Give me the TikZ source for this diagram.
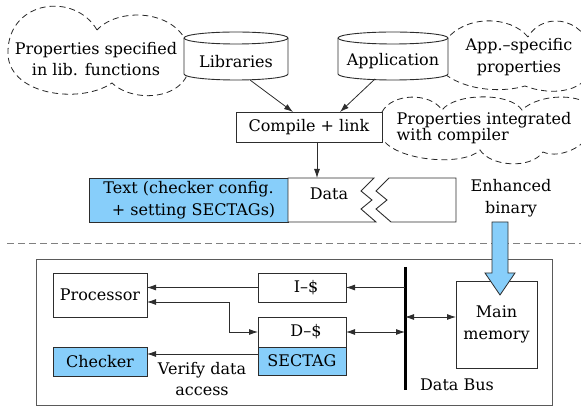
\documentclass[tikz,border=0pt]{standalone}
\usepackage{fontspec}
\setmainfont{DejaVu Serif}
\usetikzlibrary{arrows.meta}
\definecolor{bluefill}{RGB}{135,206,250}
\definecolor{edge}{RGB}{45,45,45}
\definecolor{framegray}{RGB}{90,90,90}
\begin{document}
\begin{tikzpicture}[x=1pt,y=-1pt,
  every node/.style={font=\fontsize{16}{21.5}\selectfont, inner sep=0pt, outer sep=0pt},
  box/.style={draw=edge, line width=0.9pt, fill=white},
  bluebox/.style={draw=edge, line width=0.9pt, fill=bluefill},
  cloudline/.style={draw=black!85, dash pattern=on 6pt off 4pt, line width=0.8pt, fill=white},
  arr/.style={-{Latex[length=9pt,width=6pt]}, line width=0.8pt, draw=edge},
  darr/.style={{Latex[length=9pt,width=6pt]}-{Latex[length=9pt,width=6pt]}, line width=0.8pt, draw=edge}
]
\path[use as bounding box] (0,0) rectangle (581,411);
\clip (0,0) rectangle (581,411);

% ---------- clouds ----------
\path[cloudline] (97,30) .. controls (75,-8) and (10,0) .. (8,50)
  .. controls (5,95) and (80,105) .. (112,83)
  .. controls (135,105) and (195,100) .. (190,55)
  .. controls (185,10) and (120,5) .. (97,30) -- cycle;
\path[cloudline] (528,37) .. controls (510,15) and (465,15) .. (446,40)
  .. controls (436,55) and (436,65) .. (446,75)
  .. controls (470,92) and (505,92) .. (525,86)
  .. controls (550,96) and (592,94) .. (592,60)
  .. controls (592,20) and (545,8) .. (528,37) -- cycle;
\path[cloudline] (382,112) .. controls (392,93) and (430,92) .. (442,110)
  .. controls (455,93) and (510,92) .. (522,110)
  .. controls (540,92) and (592,92) .. (596,115)
  .. controls (596,145) and (560,160) .. (543,152)
  .. controls (530,170) and (490,166) .. (480,150)
  .. controls (465,166) and (400,162) .. (383,140)
  .. controls (376,130) and (376,120) .. (382,112) -- cycle;

\node[align=center] (propLib) at (96,59) {Properties specified\\in lib. functions};
\node[align=center] (propApp) at (519,57) {App.–specific\\properties};
\node[align=left, font=\fontsize{16}{14.5}\selectfont] (propComp) at (484,128)
  {Properties integrated\\with compiler};

% ---------- cylinders ----------
\draw[box] (184,38) -- (184,74) arc[start angle=180, end angle=360, x radius=52pt, y radius=6pt]
  -- (288,38) arc[start angle=0, end angle=180, x radius=52pt, y radius=6pt] -- cycle;
\draw[edge, line width=0.9pt] (184,38) arc[start angle=180, end angle=360, x radius=52pt, y radius=6pt];
\node[minimum width=104pt, minimum height=36pt] (libs) at (236,62) {Libraries};

\draw[box] (338,38) -- (338,74) arc[start angle=180, end angle=360, x radius=55pt, y radius=6pt]
  -- (448,38) arc[start angle=0, end angle=180, x radius=55pt, y radius=6pt] -- cycle;
\draw[edge, line width=0.9pt] (338,38) arc[start angle=180, end angle=360, x radius=55pt, y radius=6pt];
\node[minimum width=110pt, minimum height=36pt] (app) at (393,61) {Application};

% ---------- compile ----------
\node[box, minimum width=146pt, minimum height=30pt] (compile) at (309,127) {Compile + link};
\draw[arr] ([xshift=14pt]libs.south) -- ([xshift=-16pt]compile.north);
\draw[arr] ([xshift=-18pt]app.south) -- ([xshift=31pt]compile.north);

% ---------- binary segments ----------
\node[bluebox, minimum width=199pt, minimum height=44pt, align=center] (textseg) at (188.5,200)
  {Text (checker config.\\\ \ + setting SECTAGs)};
\draw[box] (288,178) -- (374,178) -- (361,191) -- (372,200) -- (361,209) -- (376,222) -- (288,222) -- cycle;
\draw[box] (389,178) -- (456,178) -- (456,222) -- (391,222) -- (376,209) -- (387,200) -- (376,191) -- cycle;
\node (data) at (329,194) {Data};
\coordinate (datatop) at (317,178);
\draw[arr] (compile.south -| datatop) -- (datatop);

\node[align=center] (enh) at (511,198) {Enhanced\\binary};

% ---------- separator ----------
\draw[gray, line width=1pt, dash pattern=on 7pt off 4pt] (7,244) -- (581,244);

% ---------- platform ----------
\node[draw=framegray, line width=0.9pt, minimum width=516pt, minimum height=146pt] (platform) at (294,332) {};

\node[box, minimum width=94pt, minimum height=44pt] (proc) at (100,295) {Processor};
\node[bluebox, minimum width=94pt, minimum height=29pt] (checker) at (100,361.5) {Checker};
\node[box, minimum width=88pt, minimum height=29pt] (icache) at (302,287.5) {\hspace*{8pt}I–\$};
\node[box, minimum width=88pt, minimum height=30pt] (dcache) at (302,332) {\hspace*{8pt}D–\$};
\node[bluebox, minimum width=88pt, minimum height=28pt] (sectag) at (302,361) {SECTAG};
\node[box, minimum width=81pt, minimum height=87pt, align=center] (mem) at (496.5,324.5) {Main\\memory};

\coordinate (bustop) at (405,267);
\coordinate (busbot) at (405,390);
\draw[line width=3pt] (bustop) -- (busbot);
\node (busl) at (457,385) {Data Bus};

\draw[arr] (icache.west) -- (icache.west -| proc.east);
\draw[arr] (icache.east -| bustop) -- (icache.east);
\draw[darr] (dcache.east) -- (dcache.east -| bustop);
\draw[darr] ([yshift=7.5pt]mem.west) -- ([yshift=7.5pt]mem.west -| bustop);
\coordinate (pbend) at (229,300);
\draw[darr] ([yshift=-7pt]proc.east) -- ([yshift=-7pt]proc.east -| pbend) -- (dcache.west -| pbend) -- (dcache.west);
\draw[arr] ([yshift=7pt]sectag.west) -- ([yshift=7pt]sectag.west -| checker.east);
\node[align=center] (verify) at (202,379) {Verify data\\access};

% ---------- enhanced binary arrow ----------
\draw[fill=bluefill, draw=edge, line width=0.8pt] (492,222) -- (508,222) -- (508,273) -- (515,273)
  -- (500,295) -- (485,273) -- (492,273) -- cycle;
\end{tikzpicture}
\end{document}
